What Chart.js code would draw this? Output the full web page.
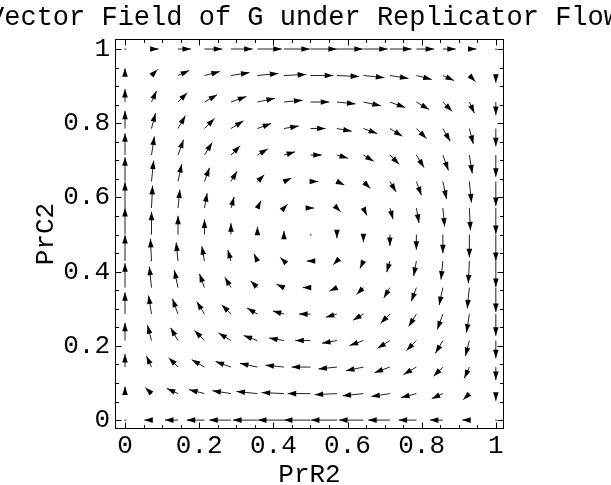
<!DOCTYPE html>
<html>
<head>
<meta charset="utf-8">
<script src="https://cdn.jsdelivr.net/npm/chart.js@4/dist/chart.umd.min.js"></script>
<style>
  html, body { margin: 0; padding: 0; background: #fff; }
</style>
</head>
<body>
<canvas id="field" width="611" height="485"></canvas>
<script>
// sample points along each axis (same for PrR2 and PrC2)
const gridValues = [0, 0.0714, 0.1429, 0.2143, 0.2857, 0.3571, 0.4286, 0.5, 0.5714, 0.6429, 0.7143, 0.7857, 0.8571, 0.9286, 1];

// horizontal component, one row per PrC2 value (bottom row first), in units of one grid step
const fieldU = [
  [0, -0.27, -0.49, -0.67, -0.82, -0.92, -0.98, -1.00, -0.98, -0.92, -0.82, -0.67, -0.49, -0.27, 0],
  [0, -0.23, -0.42, -0.58, -0.70, -0.79, -0.84, -0.86, -0.84, -0.79, -0.70, -0.58, -0.42, -0.23, 0],
  [0, -0.19, -0.35, -0.48, -0.58, -0.66, -0.70, -0.71, -0.70, -0.66, -0.58, -0.48, -0.35, -0.19, 0],
  [0, -0.15, -0.28, -0.38, -0.47, -0.52, -0.56, -0.57, -0.56, -0.52, -0.47, -0.38, -0.28, -0.15, 0],
  [0, -0.11, -0.21, -0.29, -0.35, -0.39, -0.42, -0.43, -0.42, -0.39, -0.35, -0.29, -0.21, -0.11, 0],
  [0, -0.08, -0.14, -0.19, -0.23, -0.26, -0.28, -0.29, -0.28, -0.26, -0.23, -0.19, -0.14, -0.08, 0],
  [0, -0.04, -0.07, -0.10, -0.12, -0.13, -0.14, -0.14, -0.14, -0.13, -0.12, -0.10, -0.07, -0.04, 0],
  [0, 0, 0, 0, 0, 0, 0, 0, 0, 0, 0, 0, 0, 0, 0],
  [0, 0.04, 0.07, 0.10, 0.12, 0.13, 0.14, 0.14, 0.14, 0.13, 0.12, 0.10, 0.07, 0.04, 0],
  [0, 0.08, 0.14, 0.19, 0.23, 0.26, 0.28, 0.29, 0.28, 0.26, 0.23, 0.19, 0.14, 0.08, 0],
  [0, 0.11, 0.21, 0.29, 0.35, 0.39, 0.42, 0.43, 0.42, 0.39, 0.35, 0.29, 0.21, 0.11, 0],
  [0, 0.15, 0.28, 0.38, 0.47, 0.52, 0.56, 0.57, 0.56, 0.52, 0.47, 0.38, 0.28, 0.15, 0],
  [0, 0.19, 0.35, 0.48, 0.58, 0.66, 0.70, 0.71, 0.70, 0.66, 0.58, 0.48, 0.35, 0.19, 0],
  [0, 0.23, 0.42, 0.58, 0.70, 0.79, 0.84, 0.86, 0.84, 0.79, 0.70, 0.58, 0.42, 0.23, 0],
  [0, 0.27, 0.49, 0.67, 0.82, 0.92, 0.98, 1.00, 0.98, 0.92, 0.82, 0.67, 0.49, 0.27, 0],
];

// vertical component, same layout
const fieldV = [
  [0, 0, 0, 0, 0, 0, 0, 0, 0, 0, 0, 0, 0, 0, 0],
  [0.27, 0.23, 0.19, 0.15, 0.11, 0.08, 0.04, 0, -0.04, -0.08, -0.11, -0.15, -0.19, -0.23, -0.27],
  [0.49, 0.42, 0.35, 0.28, 0.21, 0.14, 0.07, 0, -0.07, -0.14, -0.21, -0.28, -0.35, -0.42, -0.49],
  [0.67, 0.58, 0.48, 0.38, 0.29, 0.19, 0.10, 0, -0.10, -0.19, -0.29, -0.38, -0.48, -0.58, -0.67],
  [0.82, 0.70, 0.58, 0.47, 0.35, 0.23, 0.12, 0, -0.12, -0.23, -0.35, -0.47, -0.58, -0.70, -0.82],
  [0.92, 0.79, 0.66, 0.52, 0.39, 0.26, 0.13, 0, -0.13, -0.26, -0.39, -0.52, -0.66, -0.79, -0.92],
  [0.98, 0.84, 0.70, 0.56, 0.42, 0.28, 0.14, 0, -0.14, -0.28, -0.42, -0.56, -0.70, -0.84, -0.98],
  [1.00, 0.86, 0.71, 0.57, 0.43, 0.29, 0.14, 0, -0.14, -0.29, -0.43, -0.57, -0.71, -0.86, -1.00],
  [0.98, 0.84, 0.70, 0.56, 0.42, 0.28, 0.14, 0, -0.14, -0.28, -0.42, -0.56, -0.70, -0.84, -0.98],
  [0.92, 0.79, 0.66, 0.52, 0.39, 0.26, 0.13, 0, -0.13, -0.26, -0.39, -0.52, -0.66, -0.79, -0.92],
  [0.82, 0.70, 0.58, 0.47, 0.35, 0.23, 0.12, 0, -0.12, -0.23, -0.35, -0.47, -0.58, -0.70, -0.82],
  [0.67, 0.58, 0.48, 0.38, 0.29, 0.19, 0.10, 0, -0.10, -0.19, -0.29, -0.38, -0.48, -0.58, -0.67],
  [0.49, 0.42, 0.35, 0.28, 0.21, 0.14, 0.07, 0, -0.07, -0.14, -0.21, -0.28, -0.35, -0.42, -0.49],
  [0.27, 0.23, 0.19, 0.15, 0.11, 0.08, 0.04, 0, -0.04, -0.08, -0.11, -0.15, -0.19, -0.23, -0.27],
  [0, 0, 0, 0, 0, 0, 0, 0, 0, 0, 0, 0, 0, 0, 0],
];

const tickValues = [0, 0.2, 0.4, 0.6, 0.8, 1];
const tickLabels = ["0", "0.2", "0.4", "0.6", "0.8", "1"];
const minorTickValues = [0, 0.05, 0.1, 0.15, 0.2, 0.25, 0.3, 0.35, 0.4, 0.45, 0.5, 0.55, 0.6, 0.65, 0.7, 0.75, 0.8, 0.85, 0.9, 0.95, 1];

const titleText = "Vector Field of G under Replicator Flow";
const FONT = "'Liberation Mono', 'Courier New', monospace";
const arrowUnit = 0.0714; // one grid step in data units
const headLen = 8.5;
const headHalf = 2.8;

const points = [];
gridValues.forEach((yv, j) => {
  gridValues.forEach((xv, i) => {
    points.push({ x: xv, y: yv, u: fieldU[j][i], v: fieldV[j][i] });
  });
});

const arrowPlugin = {
  id: "vectorArrows",
  afterDatasetsDraw(chart) {
    const { ctx } = chart;
    const xs = chart.scales.x;
    const ys = chart.scales.y;
    ctx.save();
    ctx.lineWidth = 1;
    ctx.strokeStyle = "#222";
    ctx.fillStyle = "#000";
    chart.data.datasets[0].data.forEach((p) => {
      const x0 = xs.getPixelForValue(p.x);
      const y0 = ys.getPixelForValue(p.y);
      const x1 = xs.getPixelForValue(p.x + p.u * arrowUnit);
      const y1 = ys.getPixelForValue(p.y + p.v * arrowUnit);
      const len = Math.hypot(x1 - x0, y1 - y0);
      if (len < 0.5) {
        // zero vector: just a faint dot
        ctx.fillStyle = "#555";
        ctx.fillRect(x0 - 0.5, y0 - 0.5, 1.5, 1.5);
        ctx.fillStyle = "#000";
        return;
      }
      const dx = (x1 - x0) / len;
      const dy = (y1 - y0) / len;
      ctx.beginPath();
      ctx.moveTo(x0, y0);
      ctx.lineTo(x1, y1);
      ctx.stroke();
      const bx = x1 - dx * headLen;
      const by = y1 - dy * headLen;
      ctx.beginPath();
      ctx.moveTo(x1, y1);
      ctx.lineTo(bx - dy * headHalf, by + dx * headHalf);
      ctx.lineTo(bx + dy * headHalf, by - dx * headHalf);
      ctx.closePath();
      ctx.fill();
    });
    ctx.restore();
  },
};

// frame with inward ticks on all four sides, plus the clipped title
const framePlugin = {
  id: "frameTicks",
  afterDraw(chart) {
    const { ctx, chartArea: a } = chart;
    const xs = chart.scales.x;
    const ys = chart.scales.y;
    const L = Math.round(a.left) + 0.5;
    const R = Math.round(a.right) - 0.5;
    const T = Math.round(a.top) + 0.5;
    const B = Math.round(a.bottom) - 0.5;
    ctx.save();
    ctx.strokeStyle = "#000";
    ctx.lineWidth = 1;
    ctx.strokeRect(L, T, R - L, B - T);
    ctx.beginPath();
    minorTickValues.forEach((v) => {
      const len = tickValues.includes(v) ? 6 : 3.5;
      const px = Math.round(xs.getPixelForValue(v)) + 0.5;
      const py = Math.round(ys.getPixelForValue(v)) + 0.5;
      ctx.moveTo(px, B); ctx.lineTo(px, B - len);
      ctx.moveTo(px, T); ctx.lineTo(px, T + len);
      ctx.moveTo(L, py); ctx.lineTo(L + len, py);
      ctx.moveTo(R, py); ctx.lineTo(R - len, py);
    });
    ctx.stroke();

    ctx.fillStyle = "#000";
    ctx.font = "27px " + FONT;
    ctx.textAlign = "center";
    ctx.textBaseline = "middle";
    ctx.fillText(titleText, 304, 18);
    ctx.restore();
  },
};

const tickFont = { family: FONT, size: 26 };

new Chart(document.getElementById("field"), {
  type: "scatter",
  data: {
    datasets: [{ data: points, pointRadius: 0, pointHoverRadius: 0 }],
  },
  options: {
    responsive: false,
    animation: false,
    devicePixelRatio: 1,
    layout: { padding: { top: 39, right: 107, bottom: 0, left: 0 } },
    plugins: { legend: { display: false }, tooltip: { enabled: false }, title: { display: false } },
    scales: {
      x: {
        type: "linear",
        min: -0.027,
        max: 1.022,
        afterBuildTicks: (scale) => { scale.ticks = tickValues.map((value) => ({ value })); },
        afterFit: (scale) => { scale.height = 56; },
        ticks: {
          callback: (value) => tickLabels[tickValues.indexOf(value)],
          font: tickFont,
          color: "#000",
          padding: 2,
          maxRotation: 0,
          autoSkip: false,
        },
        grid: { display: false, drawTicks: false },
        border: { display: false },
        title: { display: true, text: "PrR2", font: tickFont, color: "#000", padding: { top: 0, bottom: -6 } },
      },
      y: {
        type: "linear",
        min: -0.024,
        max: 1.027,
        afterBuildTicks: (scale) => { scale.ticks = tickValues.map((value) => ({ value })); },
        afterFit: (scale) => { scale.width = 115; },
        ticks: {
          callback: (value) => tickLabels[tickValues.indexOf(value)],
          font: tickFont,
          color: "#000",
          padding: 5,
          autoSkip: false,
        },
        grid: { display: false, drawTicks: false },
        border: { display: false },
        title: { display: true, text: "PrC2", font: tickFont, color: "#000", padding: { top: 31, bottom: 0 } },
      },
    },
  },
  plugins: [arrowPlugin, framePlugin],
});
</script>
</body>
</html>
